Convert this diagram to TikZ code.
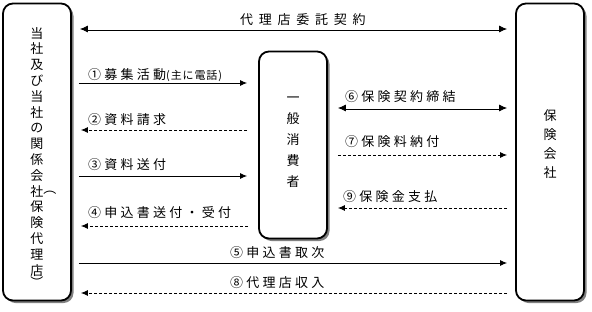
\documentclass[tikz,border=0pt]{standalone}
\usepackage{fontspec}
\setmainfont{Noto Sans CJK JP}
\newfontfamily\labfont[LetterSpace=25]{Noto Sans CJK JP}
\newfontfamily\labsmall[LetterSpace=8]{Noto Sans CJK JP}
\newfontfamily\ttlfont[LetterSpace=44]{Noto Sans CJK JP}
\newcommand\myvsp{\lineskiplimit=-30pt\relax\lineskip=0pt\relax}
\usetikzlibrary{arrows.meta,shadows}
\begin{document}
\begin{tikzpicture}[x=1pt,y=-1pt,
  box/.style={draw,line width=1.8pt,rounded corners=10pt,fill=white,
    drop shadow={shadow xshift=2.5pt,shadow yshift=-2.5pt,fill=black!55,opacity=0.9},
    inner sep=0pt,minimum width=68pt},
  vtext/.style={inner sep=0pt,align=center,anchor=north},
  lab/.style={inner sep=0pt,anchor=west,font=\labfont\fontsize{13}{13}\selectfont},
  con/.style={line width=0.9pt,-{Latex[length=7pt,width=6pt]}},
  dcon/.style={con,dash pattern=on 3pt off 2pt},
  dbl/.style={double,double distance=1.6pt,line width=0.7pt,
    {Latex[length=8pt,width=7pt]}-{Latex[length=8pt,width=7pt]}},
]
\useasboundingbox (0,0) rectangle (592,311);

% boxes
\node[box,minimum height=297pt] (L) at (37,152) {};
\node[box,minimum height=187pt] (M) at (293,145) {};
\node[box,minimum height=297pt] (R) at (550,152) {};

% box texts
\node[vtext,font=\fontsize{13}{15.8}\selectfont\myvsp] (Lt) at (37,27)
  {当\\社\\及\\び\\当\\社\\の\\関\\係\\会\\社\rlap{\raisebox{3pt}{︵}}\\保\\険\\代\\理\\店\\[-3pt]︶};
\node[vtext,font=\fontsize{13}{21}\selectfont\myvsp] (Mt) at (293,97)
  {一\\般\\消\\費\\者};
\node[vtext,font=\fontsize{13}{19}\selectfont\myvsp] (Rt) at (550,109)
  {保\\険\\会\\社};

% levels
\coordinate (y0) at (0,29);
\coordinate (y1) at (0,83);
\coordinate (y2) at (0,130);
\coordinate (y3) at (0,176);
\coordinate (y4) at (0,226);
\coordinate (y5) at (0,263);
\coordinate (y8) at (0,293);
\coordinate (y6) at (0,108);
\coordinate (y7) at (0,155);
\coordinate (y9) at (0,208);

% connectors
\draw[dbl] ([xshift=8pt]L.east |- y0) -- ([xshift=-8pt]R.west |- y0);
\draw[con] ([xshift=7pt]L.east |- y1) -- ([xshift=-11pt]M.west |- y1);
\draw[dcon] ([xshift=-11pt]M.west |- y2) -- ([xshift=9pt]L.east |- y2);
\draw[con] ([xshift=7pt]L.east |- y3) -- ([xshift=-11pt]M.west |- y3);
\draw[dcon] ([xshift=-10pt]M.west |- y4) -- ([xshift=9pt]L.east |- y4);
\draw[con] ([xshift=7pt]L.east |- y5) -- ([xshift=-8pt]R.west |- y5);
\draw[dcon] ([xshift=-8pt]R.west |- y8) -- ([xshift=9pt]L.east |- y8);
\draw[dbl] ([xshift=10pt]M.east |- y6) -- ([xshift=-8pt]R.west |- y6);
\draw[dcon] ([xshift=10pt]M.east |- y7) -- ([xshift=-8pt]R.west |- y7);
\draw[dcon] ([xshift=-8pt]R.west |- y9) -- ([xshift=10pt]M.east |- y9);

% labels
\node[lab,font=\ttlfont\fontsize{13}{13}\selectfont] (t0) at (240,20) {代理店委託契約};
\node[lab] (t1) at (88,75) {①募集活動{\labsmall\fontsize{11}{11}\selectfont(主に電話)}};
\node[lab] (t2) at (88,120) {②資料請求};
\node[lab] (t3) at (88,165) {③資料送付};
\node[lab] (t4) at (88,213) {④申込書送付・受付};
\node[lab] (t5) at (230,253) {⑤申込書取次};
\node[lab] (t8) at (230,283) {⑧代理店収入};
\node[lab] (t6) at (345,97) {⑥保険契約締結};
\node[lab] (t7) at (345,142) {⑦保険料納付};
\node[lab] (t9) at (343,197) {⑨保険金支払};
\end{tikzpicture}
\end{document}
